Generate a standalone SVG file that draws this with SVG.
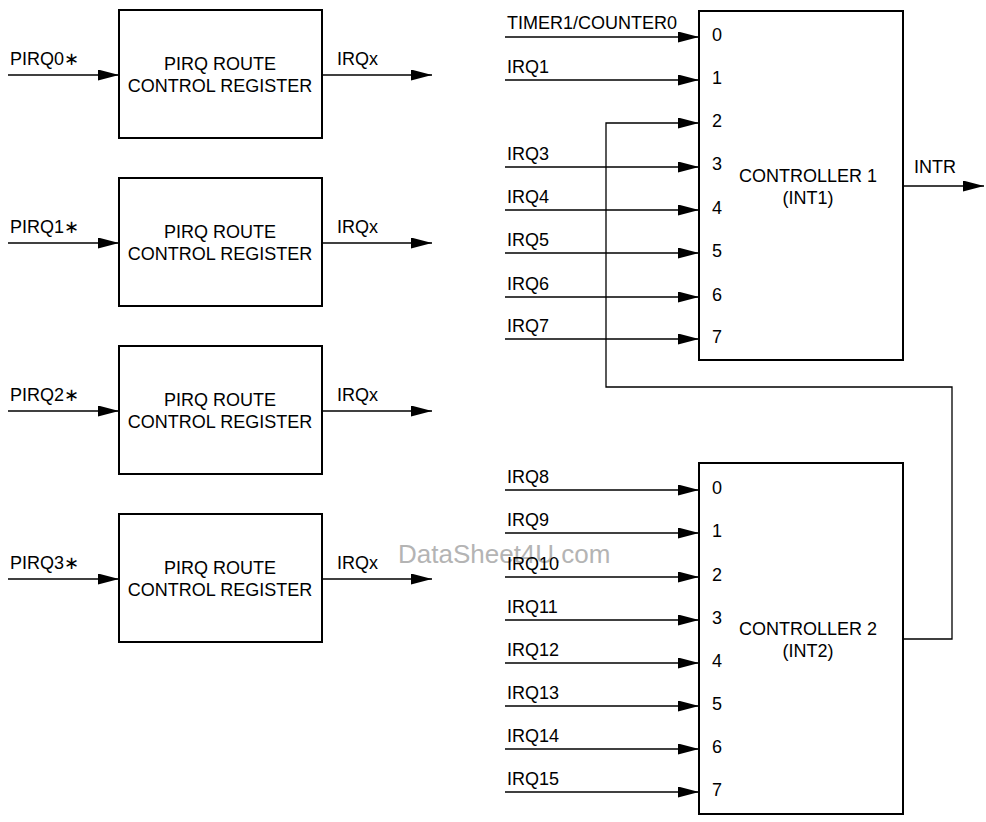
<svg xmlns="http://www.w3.org/2000/svg" width="986" height="822" viewBox="0 0 986 822">
<defs>
<marker id="arr" markerUnits="userSpaceOnUse" viewBox="0 0 21 11" refX="21" refY="5.5" markerWidth="21" markerHeight="11" orient="auto">
<path d="M0,0 L21,5.5 L0,11 z" fill="#000"/>
</marker>
<style>
.box{fill:#fff;stroke:#000;stroke-width:2}
.ln{fill:none;stroke:#000;stroke-width:1.3}
.ar{fill:none;stroke:#000;stroke-width:1.3;marker-end:url(#arr)}
text{font-family:"Liberation Sans",Arial,"DejaVu Sans",sans-serif;font-size:18px;fill:#000}
.c{text-anchor:middle}
.wm{font-size:26px;fill:#b4b4b4}
</style>
</defs>
<rect width="986" height="822" fill="#fff"/>

<g id="pirq0">
<rect class="box" x="119" y="10" width="203" height="128"/>
<text class="c" x="220" y="70">PIRQ ROUTE</text>
<text class="c" x="220" y="92">CONTROL REGISTER</text>
</g>
<g id="pirq1">
<rect class="box" x="119" y="178" width="203" height="128"/>
<text class="c" x="220" y="238">PIRQ ROUTE</text>
<text class="c" x="220" y="260">CONTROL REGISTER</text>
</g>
<g id="pirq2">
<rect class="box" x="119" y="346" width="203" height="128"/>
<text class="c" x="220" y="406">PIRQ ROUTE</text>
<text class="c" x="220" y="428">CONTROL REGISTER</text>
</g>
<g id="pirq3">
<rect class="box" x="119" y="514" width="203" height="128"/>
<text class="c" x="220" y="574">PIRQ ROUTE</text>
<text class="c" x="220" y="596">CONTROL REGISTER</text>
</g>

<g id="ctrl1">
<rect class="box" x="699" y="11" width="204" height="349"/>
<text class="c" x="808" y="182">CONTROLLER 1</text>
<text class="c" x="808" y="204">(INT1)</text>
<text x="712" y="41">0</text>
<text x="712" y="84">1</text>
<text x="712" y="127">2</text>
<text x="712" y="170">3</text>
<text x="712" y="214">4</text>
<text x="712" y="257">5</text>
<text x="712" y="301">6</text>
<text x="712" y="343">7</text>
</g>

<g id="ctrl2">
<rect class="box" x="699" y="463" width="204" height="351"/>
<text class="c" x="808" y="635">CONTROLLER 2</text>
<text class="c" x="808" y="657">(INT2)</text>
<text x="712" y="494">0</text>
<text x="712" y="537">1</text>
<text x="712" y="581">2</text>
<text x="712" y="624">3</text>
<text x="712" y="667">4</text>
<text x="712" y="710">5</text>
<text x="712" y="753">6</text>
<text x="712" y="796">7</text>
</g>

<g id="connectors">
<line class="ar" x1="8" y1="75" x2="119" y2="75"/>
<line class="ar" x1="8" y1="243" x2="119" y2="243"/>
<line class="ar" x1="8" y1="411" x2="119" y2="411"/>
<line class="ar" x1="8" y1="579" x2="119" y2="579"/>
<line class="ar" x1="322" y1="75" x2="432" y2="75"/>
<line class="ar" x1="322" y1="243" x2="432" y2="243"/>
<line class="ar" x1="322" y1="411" x2="432" y2="411"/>
<line class="ar" x1="322" y1="579" x2="432" y2="579"/>

<line class="ar" x1="505" y1="37" x2="699" y2="37"/>
<line class="ar" x1="505" y1="80" x2="699" y2="80"/>
<line class="ar" x1="505" y1="167" x2="699" y2="167"/>
<line class="ar" x1="505" y1="210" x2="699" y2="210"/>
<line class="ar" x1="505" y1="253" x2="699" y2="253"/>
<line class="ar" x1="505" y1="297" x2="699" y2="297"/>
<line class="ar" x1="505" y1="339" x2="699" y2="339"/>
<polyline class="ar" points="903,639 952,639 952,387 606,387 606,123 699,123"/>
<line class="ar" x1="903" y1="186" x2="984" y2="186"/>

<line class="ar" x1="505" y1="490" x2="699" y2="490"/>
<line class="ar" x1="505" y1="533" x2="699" y2="533"/>
<line class="ar" x1="505" y1="577" x2="699" y2="577"/>
<line class="ar" x1="505" y1="620" x2="699" y2="620"/>
<line class="ar" x1="505" y1="663" x2="699" y2="663"/>
<line class="ar" x1="505" y1="706" x2="699" y2="706"/>
<line class="ar" x1="505" y1="749" x2="699" y2="749"/>
<line class="ar" x1="505" y1="792" x2="699" y2="792"/>
</g>

<g id="labels">
<text x="10" y="65">PIRQ0∗</text>
<text x="10" y="233">PIRQ1∗</text>
<text x="10" y="401">PIRQ2∗</text>
<text x="10" y="569">PIRQ3∗</text>
<text x="337" y="65">IRQx</text>
<text x="337" y="233">IRQx</text>
<text x="337" y="401">IRQx</text>
<text x="337" y="569">IRQx</text>
<text class="wm" x="398" y="563">DataSheet4U.com</text>
<text x="507" y="29">TIMER1/COUNTER0</text>
<text x="507" y="73">IRQ1</text>
<text x="507" y="160">IRQ3</text>
<text x="507" y="203">IRQ4</text>
<text x="507" y="246">IRQ5</text>
<text x="507" y="290">IRQ6</text>
<text x="507" y="332">IRQ7</text>
<text x="914" y="173">INTR</text>
<text x="507" y="483">IRQ8</text>
<text x="507" y="526">IRQ9</text>
<text x="507" y="570">IRQ10</text>
<text x="507" y="613">IRQ11</text>
<text x="507" y="656">IRQ12</text>
<text x="507" y="699">IRQ13</text>
<text x="507" y="742">IRQ14</text>
<text x="507" y="785">IRQ15</text>
</g>
</svg>
